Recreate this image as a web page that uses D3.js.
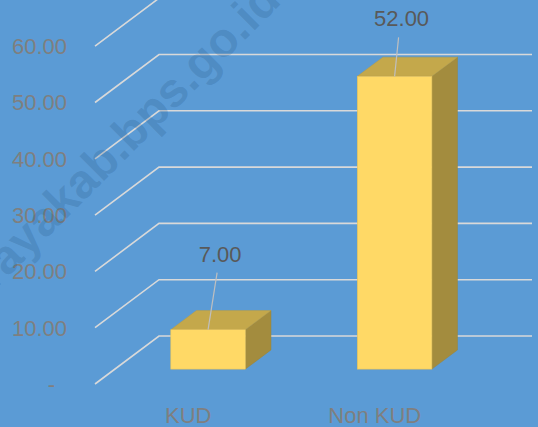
<!DOCTYPE html>
<html>
<head>
<meta charset="utf-8">
<script src="https://cdn.jsdelivr.net/npm/d3@7"></script>
<style>
  html, body { margin: 0; padding: 0; background: #5b9bd5; }
  svg { display: block; font-family: "Liberation Sans", Arial, sans-serif; }
</style>
</head>
<body>
<div id="chart-area"></div>
<script>
// data
var categories = ["KUD", "Non KUD"];
var values = [7, 52];
var tickValues = [0, 10, 20, 30, 40, 50, 60];

var width = 538, height = 427;

// floor front edge and depth of the 3d box
var front = { left: 95, right: 468, bottom: 384 };
var depth = { dx: 64, dy: -48 };     // front -> back wall
var barDepth = [0.31, 0.71];          // bar front / back plane, 0 = front, 1 = back wall

var svg = d3.select("#chart-area").append("svg")
  .attr("width", width)
  .attr("height", height);

svg.append("rect")
  .attr("width", width)
  .attr("height", height)
  .attr("fill", "#5b9bd5");

// Scales
var x = d3.scaleBand()
  .domain(categories)
  .range([front.left, front.right])
  .paddingInner(0.6)
  .paddingOuter(0.3);

var y = d3.scaleLinear()
  .domain([0, 60])
  .range([front.bottom, front.bottom - 337.8]);

function off(d) { return [depth.dx * d, depth.dy * d]; }

// grid lines on wall (diagonal + back horizontal)
var grid = svg.append("g").attr("class", "grid");
tickValues.forEach(function(t) {
  var p0 = [front.left, y(t)];
  var p1 = [front.left + depth.dx, y(t) + depth.dy];
  var p2 = [front.right + depth.dx, y(t) + depth.dy];
  grid.append("path")
    .attr("d", d3.line()([p0, p1, p2]))
    .attr("fill", "none")
    .attr("stroke", "#d9d9d9")
    .attr("stroke-width", 1.6);
});

// Y tick labels
svg.append("g").selectAll("text")
  .data(tickValues)
  .enter().append("text")
    .attr("x", function(d) { return d === 0 ? 55 : 67; })
    .attr("y", function(d) { return y(d); })
    .attr("dy", "0.36em")
    .attr("text-anchor", "end")
    .attr("font-size", "22px")
    .attr("fill", "#7f7f7f")
    .text(function(d) { return d === 0 ? "-" : d3.format(".2f")(d); });

// watermark
svg.append("text")
  .attr("transform", "translate(-87,372) rotate(-45)")
  .attr("font-size", "48px")
  .attr("font-weight", "bold")
  .attr("fill", "#1f4e79")
  .attr("fill-opacity", 0.2)
  .text("kuburayakab.bps.go.id");

// Bars
var f = off(barDepth[0]), b = off(barDepth[1]);
var bdx = b[0] - f[0], bdy = b[1] - f[1];

var bars = svg.append("g").selectAll("g")
  .data(values)
  .enter().append("g");

bars.each(function(v, i) {
  var g = d3.select(this);
  var x0 = x(categories[i]) + f[0];
  var x1 = x0 + x.bandwidth();
  var y0 = y(0) + f[1];
  var y1 = y(v) + f[1];

  // side
  g.append("path")
    .attr("d", d3.line()([[x1, y0], [x1 + bdx, y0 + bdy], [x1 + bdx, y1 + bdy], [x1, y1]]) + "Z")
    .attr("fill", "#a38c3e")
    .attr("stroke", "#9a843a")
    .attr("stroke-width", 0.5);
  // top
  g.append("path")
    .attr("d", d3.line()([[x0, y1], [x0 + bdx, y1 + bdy], [x1 + bdx, y1 + bdy], [x1, y1]]) + "Z")
    .attr("fill", "#c4a84b")
    .attr("stroke", "#b89d45")
    .attr("stroke-width", 0.5);
  // front
  g.append("rect")
    .attr("x", x0)
    .attr("y", y1)
    .attr("width", x1 - x0)
    .attr("height", y0 - y1)
    .attr("fill", "#ffd966")
    .attr("stroke", "#e6c25a")
    .attr("stroke-width", 0.6);
});

// data labels with leader lines (manually placed as in the source)
var labelOffsets = [[12, -68], [7, -50]];
values.forEach(function(v, i) {
  var cx = x(categories[i]) + f[0] + x.bandwidth() / 2;
  var top = y(v) + f[1];
  var lx = cx + labelOffsets[i][0], ly = top + labelOffsets[i][1];
  svg.append("line")
    .attr("x1", lx - 3).attr("y1", ly + 11)
    .attr("x2", cx).attr("y2", top)
    .attr("stroke", "#bfbfbf")
    .attr("stroke-width", 1.2);
  svg.append("text")
    .attr("x", lx)
    .attr("y", ly)
    .attr("text-anchor", "middle")
    .attr("font-size", "22px")
    .attr("fill", "#595959")
    .text(d3.format(".2f")(v));
});

// X labels
svg.append("g").selectAll("text")
  .data(categories)
  .enter().append("text")
    .attr("x", function(d) { return x(d) + x.bandwidth() / 2; })
    .attr("y", 423)
    .attr("text-anchor", "middle")
    .attr("font-size", "22px")
    .attr("fill", "#7f7f7f")
    .text(function(d) { return d; });
</script>
</body>
</html>
